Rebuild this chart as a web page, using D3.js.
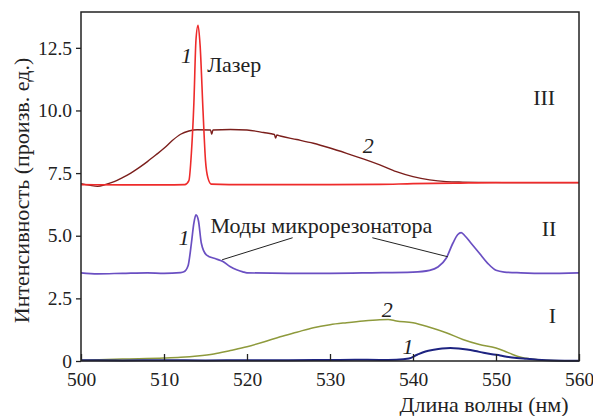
<!DOCTYPE html>
<html>
<head>
<meta charset="utf-8">
<script src="https://cdn.jsdelivr.net/npm/d3@7"></script>
<style>
  body { margin: 0; background: #fff; }
</style>
</head>
<body>
<div id="container"></div>
<script>
///data
const xTicks = [500, 510, 520, 530, 540, 550, 560];
const yTicks = [0, 2.5, 5.0, 7.5, 10.0, 12.5];

// III, curve 1 (laser)
const laserWl  = [500, 505, 510, 512.5, 513.0, 513.3, 513.6, 513.85, 514.1, 514.35, 514.7, 515.0, 515.3, 515.7, 520, 530, 536, 540, 545, 550, 555, 560];
const laserVal = [7.04, 7.03, 7.03, 7.04, 7.2, 8.3, 10.3, 12.8, 13.4, 12.6, 10.0, 8.0, 7.3, 7.06, 7.04, 7.04, 7.05, 7.08, 7.1, 7.12, 7.12, 7.12];

// III, curve 2
const lumWl  = [500, 501, 502, 503, 504, 505, 506, 507, 508, 509, 510, 511, 512, 513, 514, 515.6, 515.75, 515.9, 518, 520, 522, 523.3, 523.45, 523.6, 524, 526, 528, 530, 532, 534, 536, 538, 540, 542, 544, 546, 548, 552, 556, 560];
const lumVal = [7.08, 7.02, 6.97, 7.05, 7.16, 7.32, 7.5, 7.72, 7.96, 8.22, 8.49, 8.8, 9.05, 9.18, 9.23, 9.22, 9.05, 9.22, 9.24, 9.22, 9.12, 9.04, 8.9, 9.02, 8.98, 8.84, 8.69, 8.5, 8.29, 8.07, 7.83, 7.56, 7.36, 7.23, 7.16, 7.14, 7.13, 7.12, 7.12, 7.12];

// II, curve 1 (microcavity modes)
const modeWl  = [500, 502, 505, 508, 510, 512, 512.4, 512.9, 513.3, 513.6, 513.85, 514.15, 514.5, 515.1, 516.3, 517.1, 517.95, 518.75, 519.5, 520, 525, 530, 535, 540, 542, 543, 544, 544.8, 545.4, 545.8, 546.3, 547, 548, 549, 550, 551, 553, 556, 560];
const modeVal = [3.52, 3.48, 3.5, 3.52, 3.5, 3.53, 3.56, 3.8, 4.7, 5.5, 5.83, 5.6, 4.7, 4.24, 4.07, 3.97, 3.77, 3.64, 3.56, 3.52, 3.5, 3.5, 3.52, 3.55, 3.62, 3.75, 4.1, 4.7, 5.05, 5.12, 4.98, 4.7, 4.3, 3.9, 3.62, 3.55, 3.52, 3.5, 3.52];

// I, curve 2
const broadWl  = [500, 505, 510, 512, 514, 516, 518, 520, 522, 524, 526, 528, 530, 532, 534, 536, 537, 538, 540, 542, 544, 546, 548, 550, 551, 552, 553, 554, 556, 558, 560];
const broadVal = [0.03, 0.08, 0.12, 0.15, 0.2, 0.28, 0.42, 0.57, 0.76, 0.97, 1.15, 1.33, 1.45, 1.53, 1.6, 1.65, 1.66, 1.6, 1.53, 1.35, 1.13, 0.86, 0.66, 0.52, 0.4, 0.26, 0.15, 0.09, 0.03, 0.01, 0.0];

// I, curve 1
const weakWl  = [500, 505, 510, 515, 520, 525, 530, 533, 536, 538, 539.5, 540.5, 541.5, 542.5, 543.5, 544.5, 545.5, 546.5, 547.5, 548.5, 549.5, 550.5, 551.5, 552.5, 553.5, 555, 557, 560];
const weakVal = [0.03, 0.02, 0.03, 0.02, 0.03, 0.03, 0.04, 0.05, 0.04, 0.05, 0.1, 0.25, 0.38, 0.45, 0.5, 0.52, 0.5, 0.46, 0.4, 0.33, 0.27, 0.22, 0.16, 0.12, 0.09, 0.05, 0.02, 0.01];

///declare size
let w = 593,
h = 416,
m = {top: 12, right: 14, bottom: 55, left: 81};
const fam = "'Liberation Serif'";

let svg = d3.select("#container").
append("svg").
attr("width", w).
attr("height", h).
style("font-family", fam);

let xScale = d3.scaleLinear().
domain([500, 560]).
range([m.left, w - m.right]);

let yScale = d3.scaleLinear().
domain([0, 13.93]).
range([h - m.bottom, m.top]);

///curves
const series = [
  {wl: lumWl, val: lumVal, color: "#7b1f1c", width: 1.4},
  {wl: laserWl, val: laserVal, color: "#ee2b2b", width: 1.6},
  {wl: modeWl, val: modeVal, color: "#6a4fc2", width: 1.7},
  {wl: broadWl, val: broadVal, color: "#8e9a3c", width: 1.5},
  {wl: weakWl, val: weakVal, color: "#1d2380", width: 2}
];

let line = d3.line().
x(d => xScale(d[0])).
y(d => yScale(d[1])).
curve(d3.curveMonotoneX);

svg.append("g").
selectAll("path").
data(series).
enter().
append("path").
attr("d", s => line(s.wl.map((x, i) => [x, s.val[i]]))).
attr("fill", "none").
attr("stroke", s => s.color).
attr("stroke-width", s => s.width).
attr("stroke-linejoin", "round");

///frame
svg.append("rect").
attr("x", m.left).
attr("y", m.top).
attr("width", w - m.left - m.right).
attr("height", h - m.top - m.bottom).
attr("fill", "none").
attr("stroke", "#222").
attr("stroke-width", 1.5);

///X-Axis (ticks inside)
let xAxis = d3.axisBottom(xScale).
tickValues(xTicks).
tickSizeInner(-7).
tickSizeOuter(0).
tickPadding(11).
tickFormat(d3.format("d"));
let xg = svg.append("g").
attr("transform", "translate(0," + (h - m.bottom) + ")").
call(xAxis).
attr("font-family", null).
attr("font-size", null);
xg.select(".domain").remove();
xg.selectAll(".tick line").attr("stroke", "#222").attr("stroke-width", 1.3);
xg.selectAll("text").style("font-family", fam).style("font-size", "19.5px").attr("fill", "#222");

///Y-Axis (ticks outside)
let yAxis = d3.axisLeft(yScale).
tickValues(yTicks).
tickSize(5).
tickPadding(4).
tickFormat(d => d === 0 ? "0" : d3.format(".1f")(d));
let yg = svg.append("g").
attr("transform", "translate(" + m.left + ",0)").
call(yAxis).
attr("font-family", null).
attr("font-size", null);
yg.select(".domain").remove();
yg.selectAll(".tick line").attr("stroke", "#222").attr("stroke-width", 1.3);
yg.selectAll("text").style("font-family", fam).style("font-size", "19.5px").attr("fill", "#222");

///axis titles
svg.append("text").
attr("transform", "translate(29,190.5) rotate(-90)").
attr("text-anchor", "middle").
style("font-family", fam).
style("font-size", "22px").
attr("fill", "#222").
text("Интенсивность (произв. ед.)");

svg.append("text").
attr("x", 484).
attr("y", 412).
attr("text-anchor", "middle").
style("font-family", fam).
style("font-size", "22px").
attr("fill", "#222").
text("Длина волны (нм)");

///annotations
const notes = [
  {t: "1", x: 512.7, y: 11.9, italic: true, anchor: "middle"},
  {t: "Лазер", x: 515.2, y: 11.55, anchor: "start"},
  {t: "2", x: 534.6, y: 8.3, italic: true, anchor: "middle"},
  {t: "III", x: 555.8, y: 10.2, anchor: "middle"},
  {t: "1", x: 512.4, y: 4.64, italic: true, anchor: "middle"},
  {t: "Моды микрорезонатора", x: 515.6, y: 5.1, anchor: "start"},
  {t: "II", x: 556.4, y: 5.0, anchor: "middle"},
  {t: "2", x: 536.9, y: 1.77, italic: true, anchor: "middle"},
  {t: "1", x: 539.4, y: 0.29, italic: true, anchor: "middle"},
  {t: "I", x: 556.8, y: 1.53, anchor: "middle"}
];

svg.append("g").
selectAll("text").
data(notes).
enter().
append("text").
attr("x", d => xScale(d.x)).
attr("y", d => yScale(d.y)).
attr("text-anchor", d => d.anchor).
attr("fill", "#222").
style("font-family", fam).
style("font-size", "22px").
style("font-style", d => d.italic ? "italic" : "normal").
text(d => d.t);

// leader lines from the "modes" label
const leaders = [
  [[525.5, 4.92], [517.0, 4.04]],
  [[535.1, 4.92], [544.2, 4.16]]
];
svg.append("g").
selectAll("line").
data(leaders).
enter().
append("line").
attr("x1", d => xScale(d[0][0])).
attr("y1", d => yScale(d[0][1])).
attr("x2", d => xScale(d[1][0])).
attr("y2", d => yScale(d[1][1])).
attr("stroke", "#222").
attr("stroke-width", 1);
</script>
</body>
</html>
